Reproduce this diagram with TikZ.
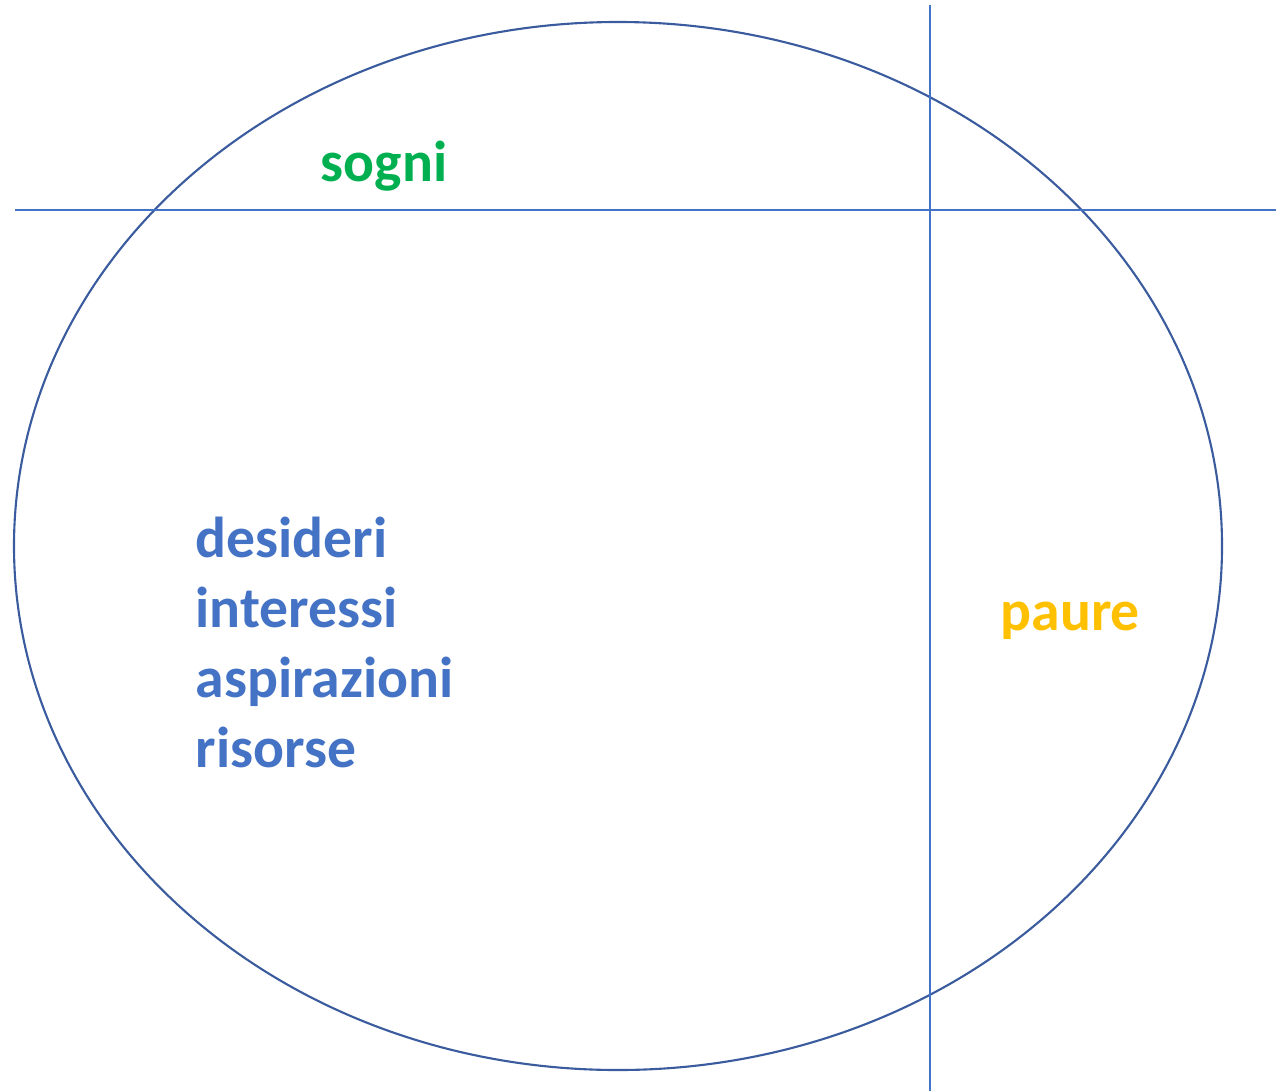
\documentclass[tikz,border=0pt]{standalone}
\usepackage{fontspec}
\setmainfont{Carlito}
\usepackage{xcolor}
\usepackage{tikz}
\usetikzlibrary{positioning}

\definecolor{lineblue}{HTML}{4472C4}
\definecolor{rimblue}{HTML}{3A5C9E}
\definecolor{dreamgreen}{HTML}{00B050}
\definecolor{feargold}{HTML}{FFC000}

\begin{document}
\begin{tikzpicture}[
    x=0.01cm, y=-0.01cm,
    rim/.style={draw=rimblue, line width=0.6pt},
    axis/.style={draw=lineblue, line width=0.7pt},
    word/.style={font=\fontsize{16.4}{19.9}\selectfont\bfseries, inner sep=0pt, align=left}
]
\useasboundingbox (0,0) rectangle (1280,1091);

\draw[rim] (618,546) ellipse [x radius=604, y radius=524];
\draw[axis] (15,210) -- (1276,210);
\draw[axis] (930,5) -- (930,1091);

\node[word, text=dreamgreen, anchor=base west] (sogni) at (320,182) {sogni};
\node[word, text=lineblue, anchor=base west] (lista) at (195,767) {desideri\\interessi\\aspirazioni\\risorse};
\node[word, text=feargold, anchor=base west] (paure) at (1000,630) {paure};

\end{tikzpicture}
\end{document}
